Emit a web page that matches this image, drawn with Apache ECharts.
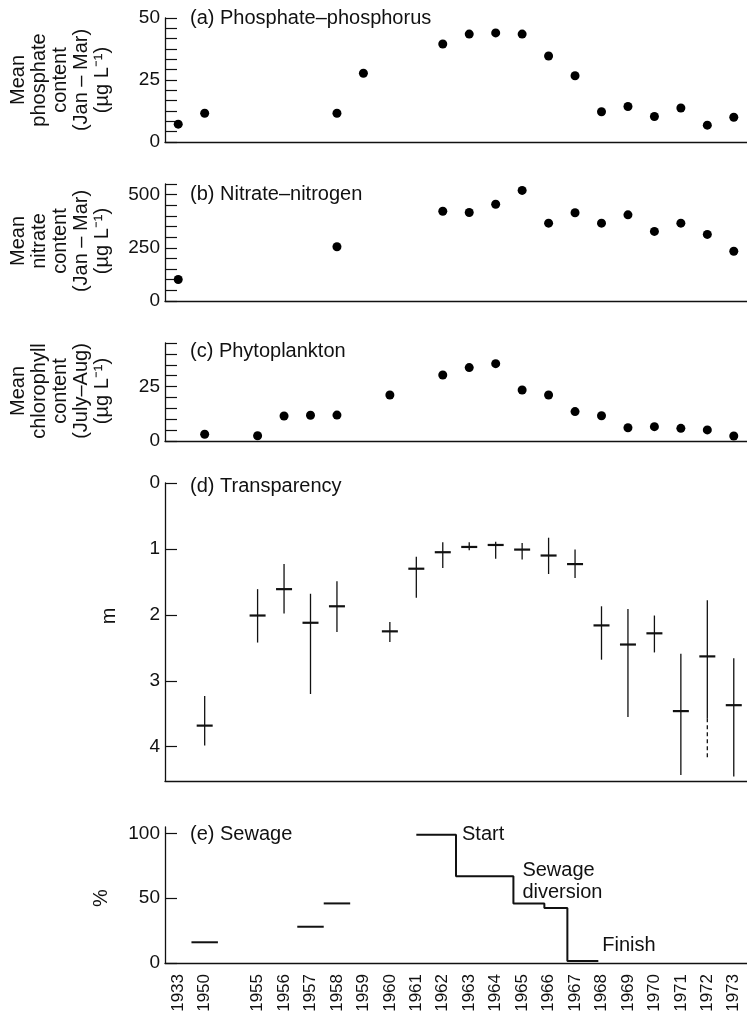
<!DOCTYPE html>
<html lang="en">
<head>
<meta charset="UTF-8">
<title>Lake Washington</title>
<style>
    *{margin:0;padding:0;}
    body{background:#fff;}
    #chart{width:747px;height:1015px;}
</style>
</head>
<body>
<div id="chart"></div>
<script src="https://cdn.jsdelivr.net/npm/echarts@6/dist/echarts.min.js"></script>
<script>
// shared x categories (one blank slot between 1950 and 1955)
var years = ['1933','1950','','1955','1956','1957','1958','1959','1960','1961','1962',
    '1963','1964','1965','1966','1967','1968','1969','1970','1971','1972','1973'];

// (a) phosphate-phosphorus, ug/L
var phosYears = ['1933','1950','1958','1959','1962','1963','1964','1965','1966','1967','1968','1969','1970','1971','1972','1973'];
var phosValues = [7.2, 11.6, 11.6, 27.7, 39.5, 43.5, 44.0, 43.5, 34.7, 26.7, 12.2, 14.3, 10.3, 13.7, 6.8, 10.0];

// (b) nitrate-nitrogen, ug/L
var nitYears = ['1933','1958','1962','1963','1964','1965','1966','1967','1968','1969','1970','1971','1972','1973'];
var nitValues = [101, 255, 422, 416, 455, 520, 366, 415, 366, 405, 327, 366, 313, 234];

// (c) chlorophyll, ug/L
var chlYears = ['1950','1955','1956','1957','1958','1960','1962','1963','1964','1965','1966','1967','1968','1969','1970','1971','1972','1973'];
var chlValues = [3.1, 2.4, 11.5, 11.8, 11.9, 21.1, 30.3, 33.7, 35.5, 23.4, 21.1, 13.5, 11.6, 6.1, 6.6, 5.8, 5.1, 2.3];

// (d) transparency, m (mean, shallowest, deepest)
var trYears = ['1950','1955','1956','1957','1958','1960','1961','1962','1963','1964','1965','1966','1967','1968','1969','1970','1971','1972','1973'];
var trMean = [3.68, 2.01, 1.61, 2.12, 1.87, 2.25, 1.30, 1.05, 0.97, 0.94, 1.01, 1.10, 1.23, 2.16, 2.45, 2.28, 3.46, 2.63, 3.37];
var trLow  = [3.23, 1.61, 1.23, 1.68, 1.49, 2.11, 1.12, 0.90, 0.90, 0.89, 0.91, 0.83, 1.01, 1.87, 1.91, 2.01, 2.59, 1.78, 2.66];
var trHigh = [3.98, 2.42, 1.98, 3.20, 2.26, 2.41, 1.74, 1.29, 1.02, 1.15, 1.16, 1.38, 1.44, 2.68, 3.55, 2.57, 4.43, 3.57, 4.45];
var trDashed = {'1972': 4.18};

// (e) sewage, %
var sewYears = ['1950','1957','1958'];
var sewValues = [16, 28, 46];
var stepYears = [1961, 1962.5, 1964.67, 1965.84, 1966.71, 1967.88];
var stepValues = [99, 67, 46, 42.5, 1.5];
var notes = [
    {text:'Start', year:1962.5, value:99},
    {text:'Sewage\ndiversion', year:1964.67, value:63},
    {text:'Finish', year:1967.88, value:13.3}
];

var ink = '#111';
var FONT = '"Liberation Sans", Arial, Helvetica, sans-serif';

function slot(y){
    var f = Math.floor(y);
    return years.indexOf(String(f)) + (y - f);
}

var grids = [
    {left:165, width:583, top:18, height:124},
    {left:165, width:583, top:184, height:117},
    {left:165, width:583, top:343, height:98},
    {left:165, width:583, top:483, height:298},
    {left:165, width:583, top:827, height:136}
];

function catAxis(i, labels){
    return {
        type:'category', gridIndex:i, data:years, boundaryGap:true,
        axisLine:{onZero:false, lineStyle:{color:ink, width:1.3}},
        axisTick:{inside:true, length:8, interval:0, lineStyle:{color:ink, width:1.2}},
        axisLabel: labels ? {interval:0, rotate:90, margin:11, fontSize:17, fontFamily:FONT, color:ink} : {show:false},
        splitLine:{show:false}
    };
}

function valAxis(i, max, ticks, labels, inverse){
    return {
        type:'value', gridIndex:i, min:0, max:max, inverse:!!inverse,
        axisLine:{show:true, onZero:false, lineStyle:{color:ink, width:1.3}},
        axisTick:{show:true, inside:true, length:12, customValues:ticks, lineStyle:{color:ink, width:1.2}},
        axisLabel:{customValues:labels, margin:5, fontSize:19, fontFamily:FONT, color:ink},
        splitLine:{show:false}
    };
}

function steps(max, step){
    var out = [];
    for (var k = 0; k * step <= max + 1e-9; k++) out.push(+(k * step).toFixed(4));
    return out;
}

var dotStyle = {color:'#000', opacity:1};

function pairs(cats, vals){
    return cats.map(function(c, i){ return [c, vals[i]]; });
}

function vText(x, y, text){
    return {type:'text', x:x, y:y, rotation:Math.PI/2,
        style:{text:text, font:'20px ' + FONT, fill:ink, textAlign:'center', textVerticalAlign:'middle',
            align:'center', verticalAlign:'middle', lineHeight:21}};
}

function hText(x, y, text){
    return {type:'text', x:x, y:y,
        style:{text:text, font:'20px ' + FONT, fill:ink, textVerticalAlign:'middle', verticalAlign:'middle'}};
}

var option = {
    animation:false,
    backgroundColor:'#fff',
    textStyle:{fontFamily:FONT},
    grid:grids,
    xAxis:[
        catAxis(0,false), catAxis(1,false), catAxis(2,false), catAxis(3,false), catAxis(4,true),
        {type:'value', gridIndex:4, min:-0.5, max:years.length - 0.5, show:false}
    ],
    yAxis:[
        valAxis(0, 50, steps(50, 50/12), [0,25,50]),
        valAxis(1, 550, steps(550, 50), [0,250,500]),
        valAxis(2, 45, steps(45, 5), [0,25]),
        valAxis(3, 4.52, [0,1,2,3,4], [0,1,2,3,4], true),
        valAxis(4, 105, [0,50,100], [0,50,100])
    ],
    graphic:[
        vText(60, 80, 'Mean\nphosphate\ncontent\n(Jan – Mar)\n(µg L⁻¹)'),
        vText(60, 241, 'Mean\nnitrate\ncontent\n(Jan – Mar)\n(µg L⁻¹)'),
        vText(60, 391, 'Mean\nchlorophyll\ncontent\n(July–Aug)\n(µg L⁻¹)'),
        vText(109, 616, 'm'),
        vText(101, 898, '%'),
        hText(190, 18, '(a) Phosphate–phosphorus'),
        hText(190, 194, '(b) Nitrate–nitrogen'),
        hText(190, 351, '(c) Phytoplankton'),
        hText(190, 486, '(d) Transparency'),
        hText(190, 834, '(e) Sewage')
    ],
    series:[
        {type:'scatter', xAxisIndex:0, yAxisIndex:0, symbolSize:9, itemStyle:dotStyle, data:pairs(phosYears, phosValues)},
        {type:'scatter', xAxisIndex:1, yAxisIndex:1, symbolSize:9, itemStyle:dotStyle, data:pairs(nitYears, nitValues)},
        {type:'scatter', xAxisIndex:2, yAxisIndex:2, symbolSize:9, itemStyle:dotStyle, data:pairs(chlYears, chlValues)},
        {
            type:'custom', xAxisIndex:3, yAxisIndex:3,
            encode:{x:0, y:1},
            data:trYears.map(function(y, i){
                return [y, trMean[i], trLow[i], trHigh[i], trDashed[y] != null ? trDashed[y] : '-'];
            }),
            renderItem:function(params, api){
                var x = api.value(0);
                var m = api.coord([x, api.value(1)]);
                var lo = api.coord([x, api.value(2)]);
                var hi = api.coord([x, api.value(3)]);
                var kids = [
                    {type:'line', shape:{x1:lo[0], y1:lo[1], x2:hi[0], y2:hi[1]}, style:{stroke:ink, lineWidth:1.3}},
                    {type:'line', shape:{x1:m[0] - 8, y1:m[1], x2:m[0] + 8, y2:m[1]}, style:{stroke:ink, lineWidth:2.2}}
                ];
                var d = api.value(4);
                if (!isNaN(d)) {
                    var dp = api.coord([x, d]);
                    kids.push({type:'line', shape:{x1:hi[0], y1:hi[1], x2:dp[0], y2:dp[1]}, style:{stroke:ink, lineWidth:1.3, lineDash:[4,3]}});
                }
                return {type:'group', children:kids};
            }
        },
        {
            type:'custom', xAxisIndex:4, yAxisIndex:4,
            encode:{x:0, y:1},
            data:pairs(sewYears, sewValues),
            renderItem:function(params, api){
                var p = api.coord([api.value(0), api.value(1)]);
                var w = api.size([1, 0])[0];
                return {type:'line', shape:{x1:p[0] - w/2, y1:p[1], x2:p[0] + w/2, y2:p[1]}, style:{stroke:ink, lineWidth:2}};
            }
        },
        {
            type:'line', xAxisIndex:5, yAxisIndex:4, step:'end', symbol:'none',
            lineStyle:{color:ink, width:2},
            data:stepYears.map(function(y, i){
                return [slot(y), stepValues[Math.min(i, stepValues.length - 1)]];
            })
        },
        {
            type:'scatter', xAxisIndex:5, yAxisIndex:4, symbolSize:0,
            itemStyle:{opacity:1},
            label:{show:true, position:'right', formatter:'{b}', fontSize:20, lineHeight:22, fontFamily:FONT, color:ink},
            data:notes.map(function(n, i){
                return {name:n.text, value:[slot(n.year), n.value], label:{distance:[6, 9, 4][i]}};
            })
        }
    ]
};

var chart = echarts.init(document.getElementById('chart'));
chart.setOption(option);
</script>
</body>
</html>
